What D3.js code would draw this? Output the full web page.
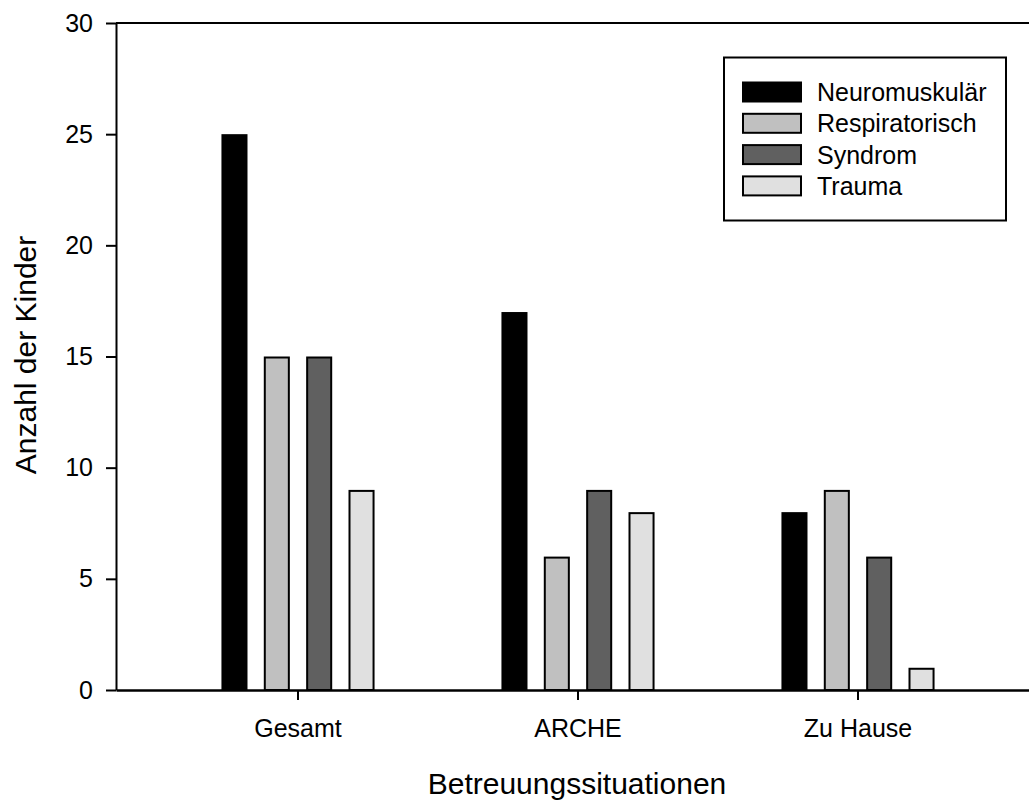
<!DOCTYPE html>
<html>
<head>
<meta charset="utf-8">
<script src="https://cdn.jsdelivr.net/npm/d3@7"></script>
<style>
	body { margin: 0; background: #fff; }
	svg text { font-family: "Liberation Sans", Arial, sans-serif; fill: #000; }
</style>
</head>
<body>
<div id="chart"></div>
<script>
// data
var categories = ["Gesamt", "ARCHE", "Zu Hause"];
var series = ["Neuromuskulär", "Respiratorisch", "Syndrom", "Trauma"];
var neuromuskulaer = [25, 17, 8];
var respiratorisch = [15, 6, 9];
var syndrom = [15, 9, 6];
var trauma = [9, 8, 1];
var yTicks = [0, 5, 10, 15, 20, 25, 30];
var colors = ["#000000", "#c0c0c0", "#606060", "#e0e0e0"];

var values = [neuromuskulaer, respiratorisch, syndrom, trauma];

var width = 1029,
	height = 801;

var svg = d3.select("#chart")
	.append("svg")
	.attr("width", width)
	.attr("height", height);

// scales
var x0 = d3.scaleBand()
	.domain(categories)
	.range([116, 1040])
	.paddingInner(0)
	.paddingOuter(0.15);

var x1 = d3.scaleBand()
	.domain(series)
	.range([-84.6, 84.6])
	.paddingInner(0.385)
	.paddingOuter(0.19);

var y = d3.scaleLinear()
	.domain([0, 30])
	.range([690, 23]);

// bars
var rows = [];
categories.forEach(function(c, i){
	series.forEach(function(s, j){
		rows.push({cat: c, ser: s, val: values[j][i], col: colors[j]});
	});
});

svg.append("g")
	.selectAll("rect")
	.data(rows)
	.enter().append("rect")
	.attr("x", function(d){ return x0(d.cat) + x0.bandwidth()/2 + x1(d.ser) + 1; })
	.attr("y", function(d){ return y(d.val) + 1; })
	.attr("width", x1.bandwidth() - 2)
	.attr("height", function(d){ return y(0) - y(d.val) - 1; })
	.attr("fill", function(d){ return d.col; })
	.attr("stroke", "#000")
	.attr("stroke-width", 2);

// axes
var xAxis = svg.append("g")
	.attr("transform", "translate(0," + y(0) + ")")
	.call(d3.axisBottom(x0).tickSize(10).tickSizeOuter(0).tickPadding(19));
xAxis.selectAll("text").style("font-size", "25px");
xAxis.select(".domain").attr("stroke-width", 2.5);
xAxis.selectAll(".tick line").attr("stroke-width", 2);

var yAxis = svg.append("g")
	.attr("transform", "translate(116,0)")
	.call(d3.axisLeft(y).tickValues(yTicks).tickSize(10).tickSizeOuter(0).tickPadding(13));
yAxis.selectAll("text").style("font-size", "25px");
yAxis.select(".domain").attr("stroke-width", 2);
yAxis.selectAll(".tick line").attr("stroke-width", 2);

// top frame line
svg.append("line")
	.attr("x1", 116)
	.attr("x2", width)
	.attr("y1", y(30))
	.attr("y2", y(30))
	.attr("stroke", "#000")
	.attr("stroke-width", 2);

// titles
svg.append("text")
	.attr("x", 577)
	.attr("y", 794)
	.style("text-anchor", "middle")
	.style("font-size", "30px")
	.text("Betreuungssituationen");
svg.append("text")
	.attr("transform", "rotate(-90)")
	.attr("x", -355)
	.attr("y", 36)
	.style("text-anchor", "middle")
	.style("font-size", "30px")
	.text("Anzahl der Kinder");

// legend
var legend = svg.append("g");
legend.append("rect")
	.attr("x", 724)
	.attr("y", 57.5)
	.attr("width", 282)
	.attr("height", 163)
	.attr("fill", "#fff")
	.attr("stroke", "#000")
	.attr("stroke-width", 2);

var item = legend.selectAll("g.item")
	.data(series)
	.enter().append("g")
	.attr("class", "item")
	.attr("transform", function(d, i){ return "translate(0," + (92 + i*31.3) + ")"; });
item.append("rect")
	.attr("x", 743)
	.attr("y", -9.5)
	.attr("width", 58)
	.attr("height", 19)
	.attr("fill", function(d, i){ return colors[i]; })
	.attr("stroke", "#000")
	.attr("stroke-width", 2);
item.append("text")
	.attr("x", 817)
	.attr("y", 9)
	.style("font-size", "25px")
	.text(function(d){ return d; });
</script>
</body>
</html>
